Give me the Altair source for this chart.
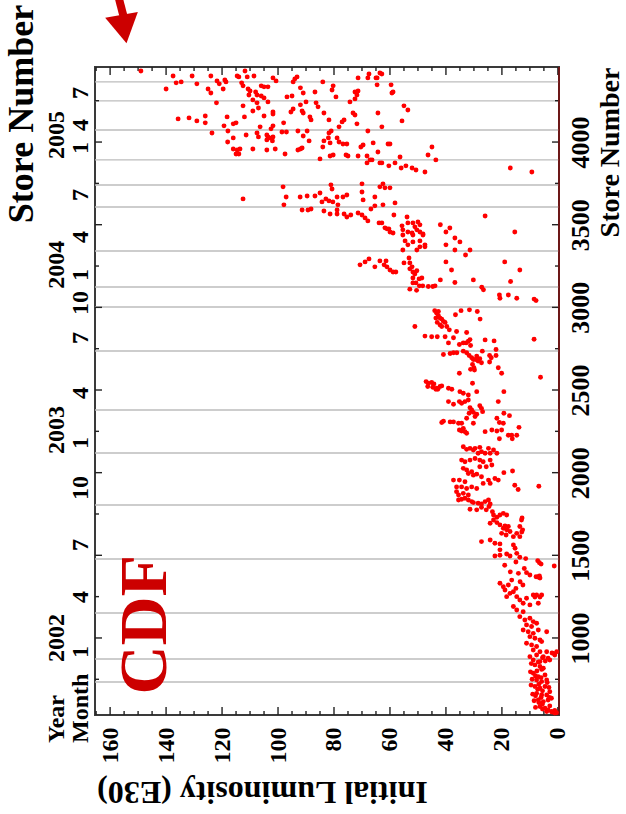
import altair as alt
import pandas as pd

# ---- Initial luminosity (E30) per store, grouped by run year: (store, lum) ----
stores_2002 = [
    (837,8.2),(827,6.4),(817,5.2),(787,8.8),(766,7.0),(776,4.6),(746,7.6),(736,5.8),(746,4.0),
    (706,8.2),(696,6.4),(706,4.6),(665,7.6),(655,5.8),(655,4.0),(675,2.9),(625,7.0),(615,5.2),
    (625,3.5),(635,2.3),(585,6.4),(575,4.6),(589,2.9),(555,4.0),(555,2.3),(561,1.1),(548,0.5),
    (564,3.5),(552,2.1),(546,1.1),(600,5.5),(610,6.8),(640,6.0),(650,8.0),(680,5.5),(690,7.2),
    (720,6.8),(730,3.8),(760,6.0),(770,8.0),(800,7.5),(810,5.8),(845,9.5),(855,7.0),(860,4.5),
    (880,5.5),(640,3.0),(700,3.2),(580,8.0),(570,5.5),(620,8.5),(660,9.0),(715,9.6),(750,9.2),
    (795,9.8),
    (1129,13.6),(1109,11.8),(1119,10.0),(1099,8.8),(1079,11.2),(1069,9.4),(1089,7.6),(1048,12.4),
    (1038,10.6),(1028,8.8),(1048,7.0),(1038,4.0),(1008,10.0),(998,8.2),(988,6.4),(968,11.2),
    (958,9.4),(948,7.6),(978,5.8),(927,8.8),(917,6.4),(917,4.0),(907,1.6),(917,0.4),(887,10.0),
    (897,7.6),(887,5.2),(877,3.5),(867,8.8),(857,6.4),(867,2.9),(909,2.1),(897,1.1),
    (1331,20.7),(1310,19.5),(1290,18.9),(1320,17.7),(1270,17.1),(1280,15.9),(1250,14.7),
    (1250,18.3),(1230,13.6),(1210,12.4),(1240,11.2),(1200,10.0),(1260,8.8),(1260,7.6),
    (1260,5.8),(1210,7.0),(1190,15.9),(1169,14.7),(1159,12.4),(1369,7.1),(1363,6.4),(1248,8.2),
    (1248,6.4),
    (1467,7.2),(1455,6.6),(1447,6.0),(1435,1.3),(1391,14.1),(1395,11.2),(1381,10.0),(1375,6.6),
    (1370,7.8),(1350,16.5),(1340,13.5),(1400,17.0),(1420,12.0),(1460,15.0),(1480,11.5),
    (1440,19.0),(1300,15.0),(1320,12.5),
    (1764,23.4),(1744,23.0),(1730,21.8),(1744,20.7),(1754,19.5),(1744,18.3),(1714,23.0),
    (1698,21.8),(1694,24.2),(1684,20.7),(1678,18.9),(1674,17.7),(1664,19.5),(1654,18.3),
    (1644,17.1),(1633,20.1),(1623,18.5),(1613,15.9),(1633,14.7),(1674,13.6),(1714,13.0),
    (1654,12.6),(1613,13.6),(1583,27.3),(1593,24.2),(1573,22.5),(1569,20.7),(1563,15.9),
    (1543,15.3),(1533,20.7),(1496,22.5),(1500,20.7),(1508,18.3),(1496,17.1),(1512,14.7),
    (1488,13.6),(1726,12.8),(1641,12.9),
    (1885,36.2),(1835,35.5),(1839,34.4),(1845,33.2),(1835,32.0),(1825,30.8),(1819,30.2),
    (1815,28.5),(1811,27.3),(1825,26.0),(1835,24.8),(1811,24.2),(1865,35.5),(1875,33.8),
    (1865,32.0),(1779,31.4),(1775,29.0),(1791,27.3),(1775,25.6),(1795,24.6),
    (1955,37.3),(1955,35.2),(1945,33.2),(1914,36.2),(1914,34.4),(1904,32.6),(1914,30.8),
    (1904,29.0),(1935,26.7),(1955,24.8),(1935,24.2),(1965,22.5),(1955,21.3),(2000,19.3),
    (2010,16.2),(1924,15.4),(1898,14.2),(1918,6.8),
    (2026,33.8),(2016,32.6),(2006,30.8),(1995,32.0),(1985,30.2),(1991,29.0),(1975,27.3),
    (2076,34.4),(2066,33.2),(2076,31.4),(2086,29.6),(2076,27.9),(2066,26.7),(2076,24.2),
    (2046,23.6),(2036,25.6),(2036,27.9),
    (2157,33.8),(2141,32.6),(2147,31.4),(2137,30.2),(2147,29.6),(2153,27.9),(2127,27.3),
    (2117,28.5),(2117,26.0),(2117,24.2),(2147,24.8),(2137,23.0),(2117,21.8),
]

stores_2003 = [
    (2205,20.9),(2226,17.7),(2226,16.5),(2226,14.7),(2205,16.3),
    (2248,26.0),(2258,23.6),(2252,21.8),(2258,20.1),(2274,13.9),
    (2252,34.4),(2248,33.2),(2238,32.6),(2299,35.5),(2299,34.4),(2268,33.8),(2258,35.2),
    (2303,41.5),(2311,40.9),(2307,38.5),(2307,37.3),(2299,30.2),
    (2329,21.8),(2303,20.9),(2299,19.5),(2345,17.3),(2359,19.3),
    (2393,31.4),(2379,30.8),(2365,30.2),(2353,29.0),(2339,29.6),(2405,27.9),(2389,27.3),
    (2369,26.9),(2359,31.7),(2329,32.6),
    (2430,39.1),(2414,37.3),(2430,35.2),(2430,33.2),(2440,32.0),(2420,34.4),(2430,21.3),
    (2490,35.0),(2480,33.8),(2470,32.0),(2490,29.0),(2541,30.5),(2490,19.3),(2511,39.1),
    (2505,37.9),
    (2551,47.1),(2541,46.3),(2545,45.1),(2537,44.3),(2521,46.5),(2517,44.7),(2511,43.3),
    (2521,42.1),(2525,41.5),(2505,43.6),(2505,42.9),
    (2601,35.2),(2635,21.3),(2601,20.1),(2577,6.2),
    (2655,30.5),(2635,30.0),(2625,31.2),(2621,29.8),
    (2735,33.8),(2725,32.6),(2709,31.7),(2695,30.8),(2685,30.2),(2685,29.3),(2675,28.5),
    (2689,27.9),(2665,27.3),(2705,29.0),
    (2735,27.0),(2709,24.4),(2695,23.8),(2669,24.4),(2745,22.1),(2709,22.1),
    (2715,40.9),(2721,38.5),(2725,37.3),(2725,36.1),
    (2775,35.2),(2785,33.8),(2785,32.8),(2795,32.0),(2805,31.4),(2769,31.2),(2785,39.1),
    (2816,37.3),(2803,26.0),(2797,22.8),(2807,8.5),
    (2826,47.5),(2822,45.1),(2822,43.1),(2822,40.3),(2864,38.8),(2854,36.2),(2848,32.6),
    (2884,51.1),
    (2980,44.0),(2965,43.3),(2949,42.7),(2935,43.6),(2935,42.1),(2929,41.5),(2915,40.9),
    (2909,40.3),(2909,43.1),(2894,42.1),(2884,41.5),(2884,39.7),(2975,42.7),
    (2955,36.6),(2980,34.6),(2985,31.6),(2975,28.8),(2929,27.8),
    (3110,52.9),(3103,50.5),(3130,49.5),(3130,48.3),(3126,46.3),(3126,44.7),(3130,43.9),
    (3150,36.8),(3166,30.2),(3122,27.2),(3106,26.6),(3075,20.9),(3075,17.7),(3055,14.7),
    (3055,20.7),(3156,16.9),(3050,8.5),(3041,7.8),
    (3178,51.8),(3172,49.6),(3178,48.6),(3148,50.7),(3148,51.8),(3166,42.0),
]

stores_2004 = [
    (3257,70.7),(3275,68.9),(3293,67.5),(3245,65.4),(3281,63.6),(3257,62.1),(3281,61.4),
    (3245,61.1),(3226,60.0),(3214,58.9),(3214,57.9),(3347,55.4),(3269,55.0),(3299,53.2),
    (3269,52.9),(3245,52.1),(3233,52.9),(3214,51.8),(3202,51.1),(3221,50.4),(3438,48.2),
    (3366,47.5),
    (3656,112.5),(3729,98.2),(3668,97.1),(3620,97.9),(3668,92.1),(3674,89.6),(3589,91.4),
    (3589,89.3),(3595,88.2),(3674,86.8),(3692,85.0),(3638,84.3),(3656,82.9),(3583,83.6),
    (3565,81.4),(3741,81.1),(3716,80.7),(3644,81.8),(3638,80.4),(3668,78.9),(3620,78.6),
    (3589,78.9),(3565,78.9),(3668,76.8),(3680,75.4),(3565,76.4),(3547,75.4),(3559,74.0),
    (3571,71.4),(3559,70.0),(3541,68.9),(3747,70.0),(3698,70.0),(3650,69.6),(3523,67.9),
    (3595,66.8),(3614,65.4),(3668,65.4),(3511,63.9),(3511,62.9),(3481,61.8),(3475,61.1),
    (3729,63.6),(3747,62.5),(3723,61.8),(3620,62.5),(3475,60.4),(3456,60.0),(3450,58.9),
    (3723,60.0),(3559,58.6),(3632,58.2),(3493,55.7),(3469,55.4),(3438,55.4),(3547,53.9),
    (3511,53.6),(3456,53.6),(3450,52.1),(3438,51.8),(3402,54.6),(3378,53.6),(3511,51.8),
    (3487,51.1),(3517,50.0),(3499,49.3),(3469,50.4),(3456,49.3),(3444,48.2),(3396,51.8),
    (3402,49.3),(3366,49.3),(3347,50.4),(3378,47.5),
    (3958,116.0),(3928,115.0),(3952,114.6),(3928,114.0),(3958,113.6),(3958,109.0),
    (3952,104.0),(3958,101.0),(3928,97.5),(3952,92.9),(3958,92.0),(3964,91.4),(3898,85.0),
    (3916,81.4),(3922,80.3),(3922,75.7),(3916,75.0),(3916,71.4),(3916,68.2),(3874,68.2),
    (3892,67.1),(3892,66.4),(3940,64.3),(3874,63.6),(3874,62.9),(3856,60.4),(3874,58.2),
    (3910,56.4),(3843,56.0),(3856,54.3),(3843,52.1),(3831,50.7),(3819,47.5),(3922,46.4),
    (3843,17.0),(3819,9.3),
    (3553,26.0),(3456,15.4),(3500,42.0),(3456,40.0),(3480,38.6),(3420,36.8),(3396,35.0),
    (3378,40.0),(3347,36.8),(3317,33.0),(3347,31.4),(3275,19.0),(3226,13.6),(3275,40.0),
    (3226,38.0),
]

stores_2005 = [
    (4430,149.0),(4321,140.0),(4400,137.5),(4358,136.4),(4364,134.6),(4140,135.7),(4146,131.8),
    (4400,130.7),(4128,129.0),(4352,129.0),(4158,126.0),(4116,126.0),(4321,125.0),(4297,124.0),
    (4400,124.0),(4055,123.6),(4237,122.0),(4370,121.8),(4352,121.0),(4321,119.6),(4376,119.0),
    (4364,118.6),(4098,119.3),(4067,117.9),(4152,118.2),(4000,118.0),(4110,116.0),(4116,115.0),
    (4025,116.0),(4400,114.6),(4394,114.0),(4358,113.0),(4340,112.5),(4219,112.5),(4152,112.0),
    (4430,111.8),(4043,111.4),(4394,111.0),(4321,110.7),(4309,110.0),(4285,110.4),(4188,109.0),
    (4255,109.0),(4400,108.6),(4303,108.0),(4285,107.5),(4237,107.5),(4206,107.0),(4055,107.5),
    (4031,107.0),(4092,106.4),(4340,106.0),(4334,105.0),(4279,106.0),(4267,105.0),(4158,105.0),
    (4013,104.0),(4043,104.0),(4031,103.6),(4025,103.0),(4007,102.0),(4031,101.8),(4334,103.6),
    (4243,103.6),(4080,102.5),(4098,101.8),(4182,101.8),(4170,101.8),(4388,101.8),(4370,100.7),
    (4061,98.6),(4116,98.0),(4061,97.0),(4273,96.8),(4182,95.4),(4200,94.6),(4279,95.0),
    (4364,94.6),(4382,94.0),(4394,93.2),(4067,92.9),(4225,92.0),(4188,91.4),(4176,91.0),
    (4328,92.0),(4297,91.0),(4037,91.0),(4243,90.0),(4067,89.6),(4007,88.9),(4152,88.6),
    (4134,88.2),(4303,86.8),(4237,86.4),(4213,85.7),(4364,84.0),(3970,84.0),(4007,83.6),
    (4176,83.6),(4025,82.0),(3995,81.4),(4134,81.8),(4067,81.0),(4055,81.8),(4315,80.7),
    (4340,80.3),(4273,79.3),(4025,78.9),(4000,78.2),(4092,78.2),(4122,77.1),(4134,76.4),
    (3988,76.8),(3988,75.4),(4243,74.3),(4176,73.2),(4164,72.5),(4261,72.5),(4285,71.8),
    (4303,72.5),(4309,71.4),(4110,71.8),(4388,71.4),(4388,67.9),(4412,67.5),(3970,70.4),
    (3982,69.6),(4067,67.9),(3995,66.0),(4388,65.0),(4388,64.6),(4346,64.6),(4176,64.3),
    (4418,63.6),(4412,62.9),(4092,62.9),(3988,60.7),(3988,60.0),(4346,59.6),(4297,59.3),
    (4303,58.9),(4128,55.7),(4219,55.0),(4194,53.6),(3970,45.0),(3892,43.6),
]

# Horizontal reference lines (store numbers)
grid_stores = [4364, 4249, 4073, 3892, 3740, 3607, 3341, 3123, 3002, 2736,
               2379, 2119, 1804, 1478, 1151, 873, 734]

# Calendar labels along the left edge (store number at label position)
month_stores = [4297, 4103, 3964, 3680, 3426, 3196, 3027, 2815, 2482, 2180,
                1907, 1563, 1248, 915]
month_names = ["7", "4", "1", "7", "4", "1", "10", "7", "4", "1", "10", "7", "4", "1"]
year_stores = [4043, 3257, 2258, 1000]
year_names = ["2005", "2004", "2003", "2002"]

# Axis tick values
lum_major = list(range(0, 161, 20))
lum_minor = [v for v in range(5, 166, 5) if v % 20 != 0]
store_major = list(range(1000, 4001, 500))
store_minor = list(range(750, 4451, 500))

W, H = 464, 648
FONT = "Liberation Serif"
RED = "#ff0000"
DARK_RED = "#cc0000"

rows = []
for year, pts in (("2002", stores_2002), ("2003", stores_2003),
                  ("2004", stores_2004), ("2005", stores_2005)):
    rows += [{"store": s, "lum": l, "year": year} for s, l in pts]
points_df = pd.DataFrame(rows)

xscale = alt.Scale(domain=[-0.4, 165.4], reverse=True, nice=False, zero=False)
yscale = alt.Scale(domain=[534, 4454], nice=False, zero=False)

# One axis definition per channel, shared by every layer so the merge keeps it
x_axis = alt.Axis(
    values=lum_major, labelAngle=270, labelAlign="right", labelBaseline="middle",
    labelFont=FONT, labelFontWeight="bold", labelFontSize=24, labelColor="black",
    labelPadding=12, ticks=False, tickSize=0, domain=False, grid=False,
    title="Initial Luminosity (E30)", titleFont=FONT, titleFontWeight="bold",
    titleFontSize=32, titleColor="black", titleAngle=180, titleAlign="center",
    titleBaseline="middle", titleX=167, titleY=76,
)
y_axis = alt.Axis(
    orient="right", values=store_major, format="d", labelAngle=270, labelAlign="center",
    labelBaseline="top", labelFont=FONT, labelFontWeight="bold", labelFontSize=26,
    labelColor="black", labelPadding=8, ticks=False, tickSize=0, domain=False,
    grid=False, title="Store Number", titleFont=FONT, titleFontWeight="bold",
    titleFontSize=28, titleColor="black", titleAngle=270, titleAlign="center",
    titleBaseline="middle", titleX=51, titleY=85,
)


def X(field="lum:Q"):
    return alt.X(field, scale=xscale, axis=x_axis)


def Y(field="store:Q"):
    return alt.Y(field, scale=yscale, axis=y_axis)


grid = alt.Chart(pd.DataFrame({"store": grid_stores})).mark_rule(
    color="#bdbdbd", strokeWidth=1.4
).encode(y=Y())

points = alt.Chart(points_df).mark_circle(size=24, color=RED, opacity=1).encode(
    x=X(), y=Y()
)


def x_ticks(values, y0, y1):
    return alt.Chart(pd.DataFrame({"lum": values})).mark_rule(
        color="#222", strokeWidth=1.4
    ).encode(x=X(), y=alt.value(y0), y2=alt.value(y1))


def y_ticks(values, x0, x1):
    return alt.Chart(pd.DataFrame({"store": values})).mark_rule(
        color="#222", strokeWidth=1.4
    ).encode(y=Y(), x=alt.value(x0), x2=alt.value(x1))


ticks = [
    x_ticks(lum_major, H, H - 8), x_ticks(lum_minor, H, H - 4),
    x_ticks(lum_major, 0, 8), x_ticks(lum_minor, 0, 4),
    y_ticks(store_major, 0, 7), y_ticks(store_minor, 0, 4),
    y_ticks(store_major, W, W - 7), y_ticks(store_minor, W, W - 4),
]

right_edge = alt.Chart(pd.DataFrame({"a": [0]})).mark_rule(
    color="#7a1010", strokeWidth=1.6
).encode(x=alt.value(W), y=alt.value(0), y2=alt.value(H))

text_style = dict(font=FONT, fontWeight="bold", angle=270, color="black",
                  align="center", baseline="middle")

months = alt.Chart(pd.DataFrame({"store": month_stores, "txt": month_names})).mark_text(
    fontSize=24, **text_style
).encode(y=Y(), x=alt.value(-14), text="txt:N")

years = alt.Chart(pd.DataFrame({"store": year_stores, "txt": year_names})).mark_text(
    fontSize=24, **text_style
).encode(y=Y(), x=alt.value(-38), text="txt:N")


def row_name(txt, px):
    return alt.Chart(pd.DataFrame({"txt": [txt]})).mark_text(
        font=FONT, fontWeight="bold", fontSize=24, angle=270, color="black",
        align="left", baseline="middle"
    ).encode(x=alt.value(px), y=alt.value(676), text="txt:N")


side_title = alt.Chart(pd.DataFrame({"txt": ["Store Number"]})).mark_text(
    fontSize=36, **text_style
).encode(x=alt.value(-73), y=alt.value(47), text="txt:N")

cdf = alt.Chart(pd.DataFrame({"lum": [147.1], "store": [1080], "txt": ["CDF"]})).mark_text(
    font=FONT, fontWeight="bold", fontSize=68, angle=270, color=DARK_RED,
    align="center", baseline="middle"
).encode(x=X(), y=Y(), text="txt:N")

arrow_shaft = alt.Chart(pd.DataFrame({"a": [0]})).mark_rule(
    color=DARK_RED, strokeWidth=8
).encode(x=alt.value(23), y=alt.value(-72), x2=alt.value(30), y2=alt.value(-45))

arrow_head = alt.Chart(pd.DataFrame({"a": [0]})).mark_point(
    shape="triangle-down", filled=True, color=DARK_RED, size=1100, angle=350, opacity=1
).encode(x=alt.value(29), y=alt.value(-38))

chart = alt.layer(
    grid, *ticks, right_edge, points, months, years,
    row_name("Year", -38), row_name("Month", -14), side_title, cdf,
    arrow_shaft, arrow_head
).properties(
    width=W, height=H,
    padding={"left": 95, "top": 67, "right": 67, "bottom": 99},
    autosize=alt.AutoSizeParams(type="none"),
    background="white",
).configure_view(stroke="#3a3a3a", strokeWidth=2)

chart.save("out.html", embed_options={"renderer": "svg", "actions": False})
